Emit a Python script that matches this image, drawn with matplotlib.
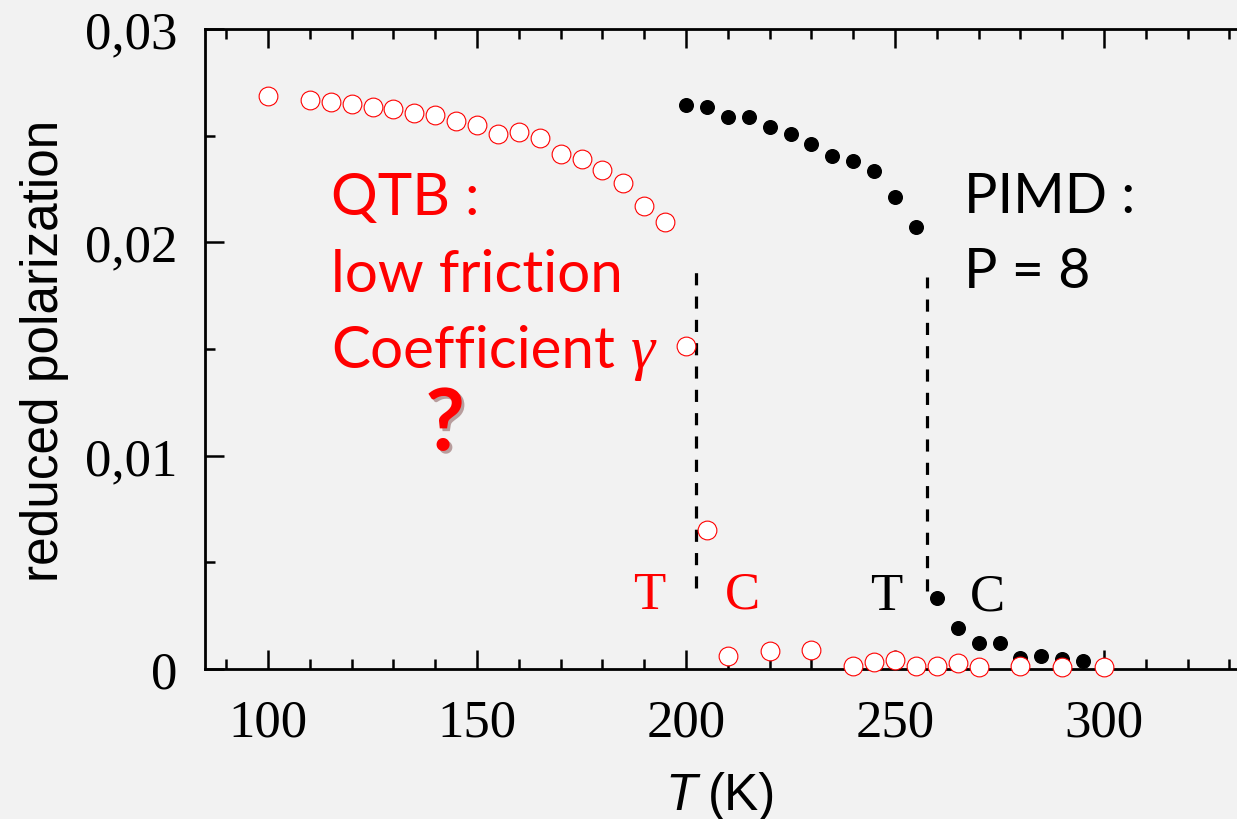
import matplotlib
matplotlib.use("Agg")
import matplotlib.pyplot as plt
import matplotlib.patheffects as pe
from matplotlib.ticker import MultipleLocator

# --- data ---
T_qtb = [100, 110, 115, 120, 125, 130, 135, 140, 145, 150, 155, 160, 165, 170,
         175, 180, 185, 190, 195, 200, 205, 210, 220, 230, 240, 245, 250, 255,
         260, 265, 270, 280, 290, 300]
P_qtb = [0.02687, 0.02667, 0.02656, 0.02647, 0.02636, 0.02626, 0.02608, 0.02597,
         0.02567, 0.02549, 0.02506, 0.02516, 0.02488, 0.02415, 0.02391, 0.02338,
         0.02277, 0.02169, 0.02097, 0.01516, 0.00652, 0.00061, 0.00084, 0.00089,
         0.00014, 0.00033, 0.00042, 0.00014, 0.00014, 0.00028, 0.00009, 0.00014,
         0.00009, 0.00009]

T_pimd = [200, 205, 210, 215, 220, 225, 230, 235, 240, 245, 250, 255,
          260, 265, 270, 275, 280, 285, 290, 295]
P_pimd = [0.02645, 0.02633, 0.02589, 0.02589, 0.02539, 0.02508, 0.02461, 0.02403,
          0.02381, 0.02336, 0.02214, 0.02073, 0.00334, 0.00190, 0.00120, 0.00120,
          0.00050, 0.00061, 0.00047, 0.00039]

# transition markers (dashed lines): x position, y from, y to
tc_x = [202.4, 257.7]
tc_ymin = [0.0038, 0.00367]
tc_ymax = [0.01861, 0.01839]

yticks = [0, 0.01, 0.02, 0.03]
ytick_labels = ["0", "0,01", "0,02", "0,03"]
xticks = [100, 150, 200, 250, 300]
xtick_labels = ["100", "150", "200", "250", "300"]

BG = "#f2f2f2"
RED = "#ff0000"

fig = plt.figure(figsize=(12.37, 8.2), dpi=100, facecolor=BG)
W, H = 1237, 820
ax = fig.add_axes([205 / W, 1 - 670 / H, 1 - 205 / W, 640 / H], facecolor=BG)

# dashed guide lines
ax.vlines(tc_x, tc_ymin, tc_ymax, colors="black", linewidth=2.3,
          linestyles=(0, (3.8, 3.5)), zorder=2)

# PIMD (black dots) then QTB (open red circles) on top
ax.plot(T_pimd, P_pimd, linestyle="none", marker="o", markersize=9.8,
        color="black", clip_on=False, zorder=3)
ax.plot(T_qtb, P_qtb, linestyle="none", marker="o", markersize=13.5,
        markerfacecolor="white", markeredgecolor=RED, markeredgewidth=0.8,
        clip_on=False, zorder=4)

ax.set_xlim(84.93, 331.8)
ax.set_ylim(0, 0.03)

# spines and ticks
for side in ["left", "bottom", "top"]:
    ax.spines[side].set_linewidth(2)
ax.spines["right"].set_visible(False)

ax.set_xticks(xticks, labels=xtick_labels)
ax.set_yticks(yticks, labels=ytick_labels)
ax.xaxis.set_minor_locator(MultipleLocator(10))
ax.yaxis.set_minor_locator(MultipleLocator(0.005))
ax.tick_params(which="both", direction="in", top=True, right=False, width=1.8)
ax.tick_params(which="major", length=13.5)
ax.tick_params(which="minor", length=7)
ax.tick_params(axis="x", which="major", pad=21)
ax.tick_params(axis="y", which="major", pad=20)
for lab in ax.get_xticklabels() + ax.get_yticklabels():
    lab.set_fontfamily("Liberation Serif")
    lab.set_fontsize(38)

# axis labels
fig.text(45 / W, 1 - 351 / H, "reduced polarization", rotation=90,
         ha="center", va="center", family="Liberation Sans", fontsize=37)
fig.text(697 / W, 1 - 810 / H, "T", ha="right", va="baseline",
         family="Liberation Sans", style="italic", fontsize=37)
fig.text(708 / W, 1 - 810 / H, "(K)", ha="left", va="baseline",
         family="Liberation Sans", fontsize=37)

# annotations
sans = "Lato"
ax.text(115.1, 0.02133, "QTB :", color=RED, family=sans, fontsize=42,
        va="baseline")
ax.text(115.1, 0.01772, "low friction", color=RED, family=sans, fontsize=42,
        va="baseline")
ax.text(115.1, 0.01416, "Coefficient", color=RED, family=sans, fontsize=42,
        va="baseline")
ax.text(186.8, 0.01416, "γ", color=RED, family="Liberation Serif",
        style="italic", fontsize=44, va="baseline")
ax.text(142.4, 0.01025, "?", color=RED, family=sans, fontweight="bold",
        fontsize=62, ha="center", va="baseline",
        path_effects=[pe.SimplePatchShadow(offset=(2, -2), alpha=0.35),
                      pe.Normal()])

ax.text(266.5, 0.02142, "PIMD :", color="black", family=sans, fontsize=40,
        va="baseline")
ax.text(266.5, 0.01791, "P = 8", color="black", family=sans, fontsize=40,
        va="baseline")

serif = "Liberation Serif"
ax.text(191.1, 0.00286, "T", color=RED, family=serif, fontsize=38,
        ha="center", va="baseline")
ax.text(213.4, 0.00286, "C", color=RED, family=serif, fontsize=38,
        ha="center", va="baseline")
ax.text(247.8, 0.00281, "T", color="black", family=serif, fontsize=38,
        ha="center", va="baseline")
ax.text(272.2, 0.00281, "C", color="black", family=serif, fontsize=38,
        ha="center", va="baseline")

fig.savefig("out.png", dpi=100, facecolor=BG)
